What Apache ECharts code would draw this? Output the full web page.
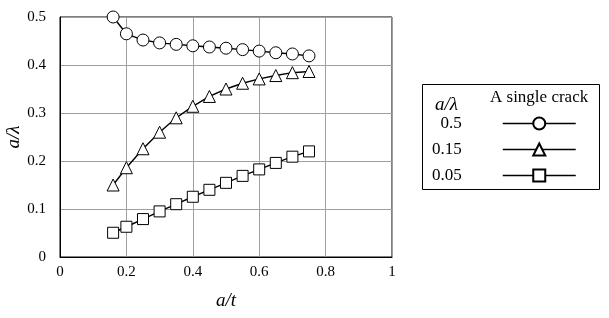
<!DOCTYPE html>
<html><head><meta charset="utf-8">
<script src="https://cdn.jsdelivr.net/npm/echarts@6/dist/echarts.min.js"></script>
<style>html,body{margin:0;padding:0;background:#fff}#c{width:609px;height:318px}</style>
</head><body><div id="c"></div>
<script>
var xValues = [0.16, 0.2, 0.25, 0.3, 0.35, 0.4, 0.45, 0.5, 0.55, 0.6, 0.65, 0.7, 0.75];
var circle05 = [0.500, 0.465, 0.452, 0.446, 0.443, 0.440, 0.4375, 0.435, 0.432, 0.429, 0.4255, 0.423, 0.419];
var tri015 = [0.150, 0.186, 0.2255, 0.260, 0.290, 0.314, 0.3345, 0.350, 0.362, 0.371, 0.378, 0.384, 0.3865];
var sq005 = [0.0505, 0.063, 0.079, 0.095, 0.110, 0.1255, 0.140, 0.1545, 0.169, 0.1825, 0.196, 0.209, 0.220];
var seriesNames = ['0.5', '0.15', '0.05'];
var xTicks = [0, 0.2, 0.4, 0.6, 0.8, 1];
var yTicks = [0, 0.1, 0.2, 0.3, 0.4, 0.5];

function pairs(ys){ return xValues.map(function(x,i){ return [x, ys[i]]; }); }
var serif = '"Liberation Serif", "Times New Roman", serif';
function mk(name, data, symbol, size){
  return {
    name: name, type: 'line', data: pairs(data), symbol: symbol, symbolSize: size,
    showSymbol: true,
    lineStyle: {color: '#000', width: 1.4},
    itemStyle: {color: '#fff', borderColor: '#000', borderWidth: 1},
    emphasis: {disabled: true}, animation: false
  };
}
var chart = echarts.init(document.getElementById('c'), null, {renderer: 'canvas'});
chart.setOption({
  animation: false,
  grid: {left: 60, right: 217, top: 17, bottom: 61, containLabel: false, outerBoundsMode: 'none',
    show: true, borderColor: '#000', borderWidth: 1, backgroundColor: 'transparent'},
  xAxis: {
    type: 'value', min: xTicks[0], max: xTicks[xTicks.length-1], interval: 0.2,
    name: 'a/t', nameLocation: 'middle', nameGap: 34, nameMoveOverlap: false,
    nameTextStyle: {fontFamily: serif, fontStyle: 'italic', fontSize: 19, color: '#000'},
    axisLine: {lineStyle: {color: '#000', width: 1}}, axisTick: {show: false},
    axisLabel: {fontFamily: serif, fontSize: 15, color: '#000', margin: 8,
      formatter: function(v){ return String(+v.toFixed(1)); }},
    splitLine: {show: true, lineStyle: {color: '#a0a0a0', width: 1}}
  },
  yAxis: {
    type: 'value', min: yTicks[0], max: yTicks[yTicks.length-1], interval: 0.1,
    name: 'a/λ', nameLocation: 'middle', nameGap: 37, nameRotate: 90, nameMoveOverlap: false,
    nameTextStyle: {fontFamily: serif, fontStyle: 'italic', fontSize: 19, color: '#000'},
    axisLine: {show: true, lineStyle: {color: '#000', width: 1}}, axisTick: {show: false},
    axisLabel: {fontFamily: serif, fontSize: 15, color: '#000', margin: 14,
      formatter: function(v){ return String(+v.toFixed(1)); }},
    splitLine: {show: true, lineStyle: {color: '#a0a0a0', width: 1}}
  },
  legend: {
    orient: 'vertical', align: 'right', left: 427, top: 110,
    itemWidth: 73, itemHeight: 15, itemGap: 9,
    data: seriesNames,
    formatter: function(n){ return n + '{sp|}'; },
    textStyle: {fontFamily: serif, fontSize: 17, color: '#000', rich: {sp: {width: 36}}},
    lineStyle: {width: 1.4},
    selectedMode: false
  },
  graphic: [
    {type: 'rect', left: 420, top: 82, shape: {width: 177, height: 105}, style: {fill: 'none', stroke: '#000', lineWidth: 1}, silent: true},
    {type: 'text', left: 435, top: 95, style: {text: 'a/λ', font: 'italic 19px ' + serif, fill: '#000'}},
    {type: 'text', left: 490, top: 89, style: {text: 'A single crack', font: '17px ' + serif, fill: '#000'}}
  ],
  series: [
    mk(seriesNames[0], circle05, 'circle', 12),
    mk(seriesNames[1], tri015, 'triangle', 12),
    mk(seriesNames[2], sq005, 'rect', 11)
  ]
});
</script></body></html>
